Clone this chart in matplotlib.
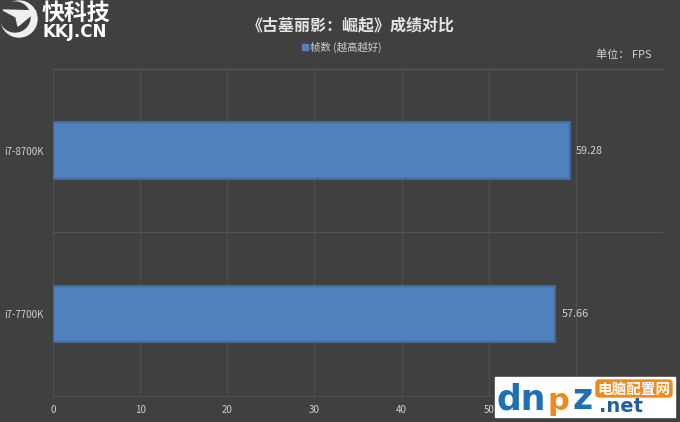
import matplotlib
matplotlib.use('Agg')
from matplotlib import pyplot as plt
from matplotlib.patches import Circle, Polygon, Rectangle, FancyBboxPatch

plt.rcParams['font.family'] = ['Noto Sans CJK SC', 'DejaVu Sans']

cpus = ['i7-7700K', 'i7-8700K']
fps = [57.66, 59.28]
x_ticks = [0, 10, 20, 30, 40, 50, 60, 70]

bg = '#404040'
grid = '#4e4e4e'
bar_color = '#4f81bd'
edge_color = '#41699c'
text_color = '#d0d0d0'

W, H = 680, 422
fig = plt.figure(figsize=(W / 100, H / 100), dpi=100, facecolor=bg)

ax = fig.add_axes([53 / W, 1 - 395.5 / H, (663 - 53) / W, (395.5 - 69) / H], facecolor=bg)
ax.set_xlim(0, 70)
ax.set_ylim(-0.5, 1.5)
ax.barh(cpus, fps, height=0.345, color=bar_color, edgecolor=edge_color, linewidth=1.5, zorder=3)
ax.set_xticks(x_ticks)
ax.set_yticks([0, 1], cpus)
ax.grid(axis='x', color=grid, linewidth=0.9, zorder=0)
ax.axhline(0.5, color='#555555', linewidth=0.9, zorder=0)
ax.axhline(1.5, color='#555555', linewidth=1, zorder=0, clip_on=False)
ax.axhline(-0.5, color=grid, linewidth=0.9, zorder=0, clip_on=False)
for s in ax.spines.values():
    s.set_visible(False)
ax.tick_params(length=0, labelsize=7, labelcolor=text_color)
ax.tick_params(axis='x', pad=7)
ax.tick_params(axis='y', pad=6.5)

for i, v in enumerate(fps):
    ax.text(v + 0.7, i, '%.2f' % v, color=text_color, fontsize=7.8, va='center', ha='left')

# overlay in pixel coordinates for the texts and logos
ov = fig.add_axes([0, 0, 1, 1], facecolor='none')
ov.set_xlim(0, W)
ov.set_ylim(H, 0)
ov.axis('off')

ov.text(351, 25, '《古墓丽影：崛起》成绩对比', color='#e4e4e4', fontsize=11.5, fontweight='bold',
        ha='center', va='center')
ov.add_patch(Rectangle((302, 44), 6, 6, color=bar_color))
ov.text(310, 47, '帧数 (越高越好)', color=text_color, fontsize=7.5, ha='left', va='center')
ov.text(596, 55, '单位： FPS', color=text_color, fontsize=8, ha='left', va='center')

# kkj logo
ov.add_patch(Circle((19, 19), 18, color='#f0f0f0'))
ov.add_patch(Circle((15, 17), 15, color=bg))
ov.add_patch(Polygon([(3, 10), (36, 11), (18, 26), (16, 17)], color='#f0f0f0'))
ov.text(42, 13, '快科技', color='white', fontsize=16.5, fontweight='bold', ha='left', va='center')
ov.text(42, 32, 'KKJ.CN', color='white', fontsize=12, fontweight='bold', ha='left', va='center',
        family='DejaVu Sans')

# dnpz watermark
ov.add_patch(Rectangle((495, 377), 180, 40, color='white', zorder=5))
ov.text(496, 399, 'dn', color='#1f6fb5', fontsize=25, fontweight='bold', ha='left', va='center',
        family='DejaVu Sans', zorder=6)
ov.text(547, 402, 'p', color='#f08a1d', fontsize=22, fontweight='bold', ha='left', va='center',
        family='DejaVu Sans', zorder=6)
ov.text(573, 399, 'z', color='#1f6fb5', fontsize=25, fontweight='bold', ha='left', va='center',
        family='DejaVu Sans', zorder=6)
ov.add_patch(FancyBboxPatch((596, 380), 76, 17, boxstyle='round,pad=0,rounding_size=3', color='#f08a1d', zorder=6))
ov.text(634, 388.5, '电脑配置网', color='white', fontsize=10.5, fontweight='bold', ha='center', va='center', zorder=7)
ov.text(599, 407, '.net', color='#1f5f9e', fontsize=14, fontweight='bold', ha='left', va='center',
        family='DejaVu Sans', zorder=6)

fig.savefig('out.png', dpi=100, facecolor=bg)
